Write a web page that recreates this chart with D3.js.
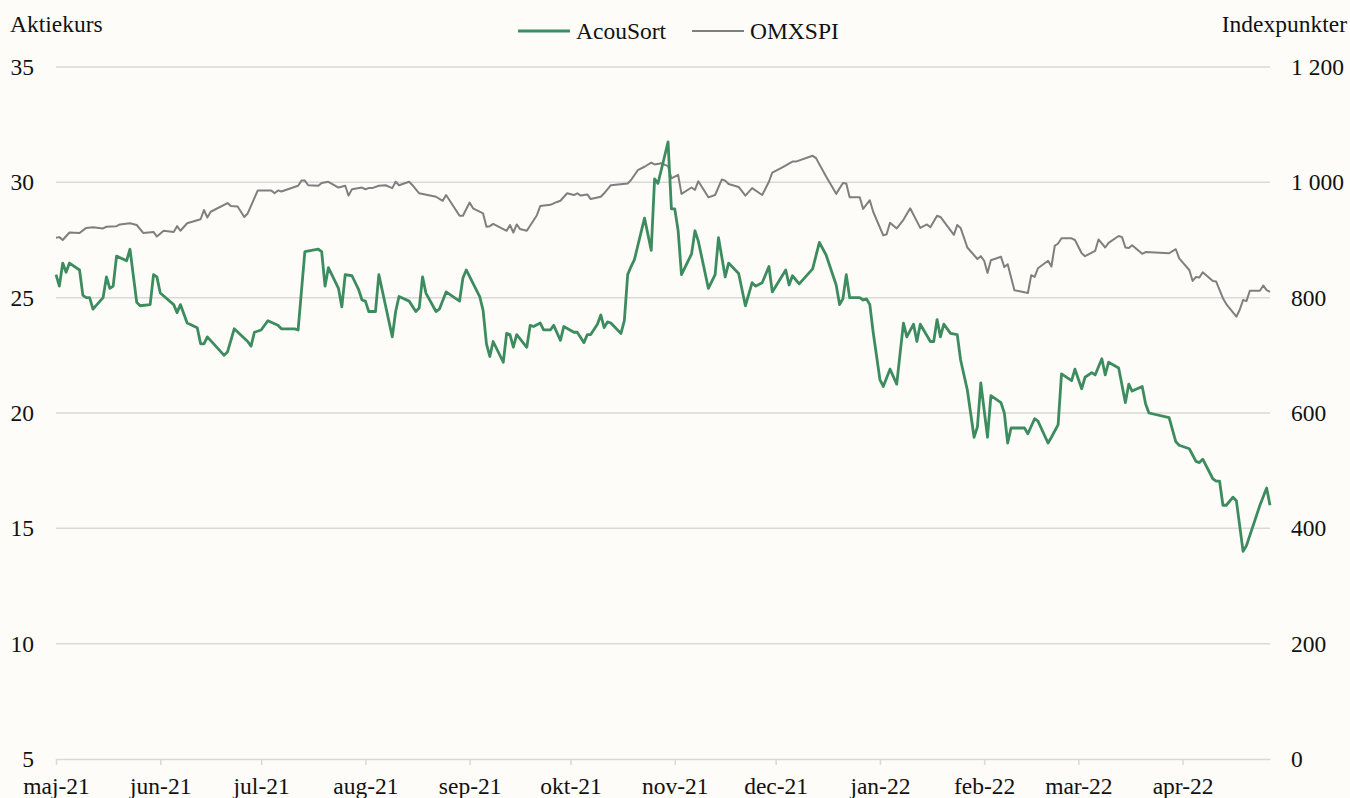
<!DOCTYPE html>
<html>
<head>
<meta charset="utf-8">
<script src="https://cdn.jsdelivr.net/npm/d3@7"></script>
<style>
  body { margin: 0; background: #fdfcf8; }
  svg { display: block; font-family: "Liberation Serif", "Times New Roman", serif; }
</style>
</head>
<body>
<div id="chart"></div>
<script>
// dag = antal dagar från 1 maj 2021
const acouSort = [
  [0, 26.0], [1, 25.5], [2, 26.5], [3, 26.1], [4, 26.5], [7, 26.2], [8, 25.1], [9, 25.0], [10, 25.0],
  [11, 24.5], [14, 25.0], [15, 25.9], [16, 25.4], [17, 25.5], [18, 26.8], [21, 26.6], [22, 27.1],
  [24, 24.8], [25, 24.65], [28, 24.7], [29, 26.0], [30, 25.9], [31, 25.2], [35, 24.7], [36, 24.35],
  [37, 24.7], [39, 23.9], [42, 23.7], [43, 23.0], [44, 23.0], [45, 23.3], [50, 22.5], [51, 22.65],
  [53, 23.65], [57, 23.1], [58, 22.9], [59, 23.5], [61, 23.6], [63, 24.0], [66, 23.8], [67, 23.65],
  [71, 23.65], [72, 23.6], [74, 27.0], [78, 27.1], [79, 27.0], [80, 25.5], [81, 26.3], [84, 25.4],
  [85, 24.6], [86, 26.0], [88, 25.95], [90, 25.35], [91, 24.9], [92, 24.85], [93, 24.4], [95, 24.4],
  [96, 26.0], [98, 24.65], [100, 23.3], [101, 24.4], [102, 25.05], [105, 24.85], [107, 24.4],
  [108, 24.55], [109, 25.9], [110, 25.2], [113, 24.4], [114, 24.5], [116, 25.25], [120, 24.85],
  [121, 25.85], [122, 26.2], [126, 25.05], [127, 24.45], [128, 23.0], [129, 22.45], [130, 23.1],
  [133, 22.2], [134, 23.45], [135, 23.4], [136, 22.85], [137, 23.4], [140, 22.85], [141, 23.8],
  [142, 23.75], [144, 23.9], [145, 23.6], [147, 23.6], [148, 23.8], [150, 23.15], [151, 23.75],
  [154, 23.5], [155, 23.5], [157, 23.05], [158, 23.4], [159, 23.4], [161, 23.85], [162, 24.25],
  [163, 23.7], [164, 23.95], [165, 23.9], [168, 23.45], [169, 24.0], [170, 26.0], [171, 26.35],
  [172, 26.65], [175, 28.45], [177, 27.05], [178, 30.15], [179, 29.95], [182, 31.75], [183, 28.85],
  [184, 28.85], [185, 27.9], [186, 26.0], [189, 26.9], [190, 27.9], [191, 27.45], [194, 25.4],
  [196, 26.0], [197, 27.6], [199, 25.9], [200, 26.5], [203, 26.05], [205, 24.65], [207, 25.65],
  [208, 25.5], [210, 25.65], [212, 26.35], [213, 25.25], [217, 26.2], [218, 25.55], [219, 25.95],
  [221, 25.6], [225, 26.25], [227, 27.4], [229, 26.85], [232, 25.55], [233, 24.7], [234, 24.95],
  [235, 26.0], [236, 25.0], [239, 25.0], [240, 24.9], [241, 24.95], [242, 24.7], [243, 23.5],
  [245, 21.45], [246, 21.15], [248, 21.9], [250, 21.25], [252, 23.9], [253, 23.3], [255, 23.85],
  [256, 23.1], [257, 23.85], [260, 23.1], [261, 23.1], [262, 24.05], [263, 23.3], [264, 23.85],
  [266, 23.45], [268, 23.4], [269, 22.3], [271, 21.0], [273, 18.95], [274, 19.4], [275, 21.3],
  [277, 18.95], [278, 20.75], [281, 20.45], [282, 20.0], [283, 18.7], [284, 19.35], [288, 19.35],
  [289, 19.1], [291, 19.75], [292, 19.65], [295, 18.7], [296, 18.95], [298, 19.5], [299, 21.7],
  [302, 21.4], [303, 21.9], [305, 21.05], [306, 21.55], [308, 21.75], [309, 21.65], [311, 22.35],
  [312, 21.65], [313, 22.2], [316, 21.95], [318, 20.45], [319, 21.25], [320, 20.95], [323, 21.15],
  [324, 20.4], [325, 20.0], [331, 19.8], [333, 18.75], [334, 18.6], [337, 18.45], [339, 17.9],
  [340, 17.85], [341, 18.0], [344, 17.15], [345, 17.05], [346, 17.05], [347, 16.0], [348, 16.0],
  [350, 16.35], [351, 16.2], [353, 14.0], [354, 14.25], [358, 16.0], [360, 16.75], [361, 16.0]
];

const omxspi = [
  [0, 904], [1, 905], [2, 900], [4, 913], [7, 912], [9, 921], [11, 922], [14, 920], [15, 923],
  [18, 924], [19, 927], [22, 929], [24, 926], [26, 912], [29, 914], [30, 906], [32, 916], [35, 914],
  [36, 924], [37, 916], [39, 929], [43, 936], [44, 952], [45, 939], [46, 949], [51, 964], [52, 959],
  [54, 958], [56, 940], [57, 946], [60, 986], [64, 986], [65, 981], [66, 986], [67, 984], [72, 994],
  [73, 1003], [74, 1003], [75, 995], [78, 994], [79, 999], [81, 1001], [84, 991], [86, 994],
  [87, 977], [88, 988], [91, 991], [92, 988], [93, 990], [94, 990], [96, 994], [98, 995], [100, 990],
  [101, 1001], [102, 995], [105, 1001], [106, 995], [108, 981], [113, 975], [115, 968], [116, 978],
  [120, 942], [121, 942], [123, 965], [124, 955], [127, 946], [128, 923], [129, 924], [130, 928],
  [134, 916], [135, 926], [136, 913], [137, 927], [138, 919], [140, 916], [143, 943], [144, 959],
  [147, 961], [149, 966], [150, 968], [152, 981], [154, 978], [155, 981], [156, 977], [158, 979],
  [159, 971], [162, 975], [163, 981], [165, 995], [170, 998], [171, 1004], [173, 1021], [175, 1027],
  [177, 1034], [178, 1031], [180, 1033], [182, 1028], [183, 1007], [184, 1010], [185, 1013],
  [186, 980], [189, 991], [190, 987], [191, 1002], [194, 974], [196, 978], [198, 1005], [199, 1003],
  [200, 997], [203, 992], [205, 977], [207, 990], [210, 978], [212, 1001], [213, 1017], [216, 1026],
  [219, 1036], [220, 1036], [225, 1046], [226, 1042], [229, 1010], [232, 980], [234, 999],
  [235, 998], [236, 974], [239, 974], [240, 954], [242, 969], [243, 949], [246, 908], [247, 910],
  [248, 930], [250, 920], [252, 935], [254, 955], [257, 921], [259, 927], [260, 922], [262, 942],
  [263, 940], [267, 909], [268, 926], [269, 921], [271, 887], [274, 867], [275, 872], [276, 864],
  [277, 843], [278, 865], [281, 871], [282, 853], [283, 858], [285, 813], [289, 808], [290, 839],
  [291, 836], [292, 851], [295, 864], [296, 854], [297, 890], [298, 894], [299, 903], [302, 903],
  [303, 900], [305, 877], [306, 872], [309, 881], [310, 901], [312, 887], [313, 895], [316, 907],
  [317, 905], [318, 887], [319, 886], [320, 891], [323, 876], [324, 879], [331, 877], [333, 884],
  [334, 868], [337, 848], [338, 829], [339, 836], [340, 835], [341, 844], [344, 829], [345, 828],
  [347, 799], [348, 789], [351, 767], [352, 779], [353, 796], [354, 794], [355, 812], [358, 812],
  [359, 821], [360, 813], [361, 810]
];

const monthTicks = ["2021-05-01", "2021-06-01", "2021-07-01", "2021-08-01", "2021-09-01", "2021-10-01",
  "2021-11-01", "2021-12-01", "2022-01-01", "2022-02-01", "2022-03-01", "2022-04-01"];
const monthLabels = ["maj-21", "jun-21", "jul-21", "aug-21", "sep-21", "okt-21",
  "nov-21", "dec-21", "jan-22", "feb-22", "mar-22", "apr-22"];
const leftTicks = [5, 10, 15, 20, 25, 30, 35];
const rightTicks = [0, 200, 400, 600, 800, 1000, 1200];
const rightTickLabels = ["0", "200", "400", "600", "800", "1 000", "1 200"];

const startDate = new Date(Date.UTC(2021, 4, 1));
const lastDay = 361;

let width = 1350;
let height = 798;
let plot = { left: 56, right: 1270, top: 67, bottom: 759 };

let svg = d3.select("#chart").append("svg")
  .attr("width", width)
  .attr("height", height);

svg.append("rect")
  .attr("width", width)
  .attr("height", height)
  .attr("fill", "#fdfcf8");

let toDate = (d) => d3.utcDay.offset(startDate, d);

let xScale = d3.scaleUtc()
  .domain([startDate, toDate(lastDay)])
  .range([plot.left, plot.right]);
let yLeft = d3.scaleLinear().domain([5, 35]).range([plot.bottom, plot.top]);
let yRight = d3.scaleLinear().domain([0, 1200]).range([plot.bottom, plot.top]);

let fontSize = 23.5;
let textColor = "#111";

// gridlines
svg.append("g").selectAll("line")
  .data(leftTicks.slice(1))
  .enter().append("line")
  .attr("x1", plot.left).attr("x2", plot.right)
  .attr("y1", (d) => yLeft(d)).attr("y2", (d) => yLeft(d))
  .attr("stroke", "#d9d9d9")
  .attr("stroke-width", 1.5);

// bottom axis
let xAxis = d3.axisBottom(xScale)
  .tickValues(monthTicks.map((s) => new Date(s + "T00:00:00Z")))
  .tickFormat((d, i) => monthLabels[i])
  .tickSize(6)
  .tickPadding(12)
  .tickSizeOuter(0);
let gX = svg.append("g")
  .attr("transform", `translate(0, ${plot.bottom})`)
  .call(xAxis);
gX.select(".domain").attr("stroke", "#d9d9d9").attr("stroke-width", 1.5);
gX.selectAll(".tick line").attr("stroke", "#d9d9d9").attr("stroke-width", 1.5);
gX.selectAll(".tick text")
  .attr("font-family", "Liberation Serif")
  .attr("font-size", fontSize)
  .attr("fill", textColor);

// left axis labels
let yAxisLeft = d3.axisLeft(yLeft).tickValues(leftTicks).tickSize(0).tickPadding(22);
let gYL = svg.append("g")
  .attr("transform", `translate(${plot.left}, 0)`)
  .call(yAxisLeft);
gYL.select(".domain").remove();
gYL.selectAll(".tick text")
  .attr("font-family", "Liberation Serif")
  .attr("font-size", fontSize)
  .attr("fill", textColor);

// right axis labels
let yAxisRight = d3.axisRight(yRight).tickValues(rightTicks).tickSize(0).tickPadding(21)
  .tickFormat((d, i) => rightTickLabels[i]);
let gYR = svg.append("g")
  .attr("transform", `translate(${plot.right}, 0)`)
  .call(yAxisRight);
gYR.select(".domain").remove();
gYR.selectAll(".tick text")
  .attr("font-family", "Liberation Serif")
  .attr("font-size", fontSize)
  .attr("fill", textColor);

// axis titles
svg.append("text")
  .text("Aktiekurs")
  .attr("x", 10).attr("y", 32)
  .attr("font-size", fontSize)
  .attr("fill", textColor);
svg.append("text")
  .text("Indexpunkter")
  .attr("x", 1347).attr("y", 32)
  .attr("text-anchor", "end")
  .attr("font-size", fontSize)
  .attr("fill", textColor);

// lines
let lineLeft = d3.line()
  .x((d) => xScale(toDate(d[0])))
  .y((d) => yLeft(d[1]));
let lineRight = d3.line()
  .x((d) => xScale(toDate(d[0])))
  .y((d) => yRight(d[1]));

svg.append("path")
  .datum(omxspi)
  .attr("d", lineRight)
  .attr("fill", "none")
  .attr("stroke", "#7f7f7f")
  .attr("stroke-width", 2)
  .attr("stroke-linejoin", "round");

svg.append("path")
  .datum(acouSort)
  .attr("d", lineLeft)
  .attr("fill", "none")
  .attr("stroke", "#3d8c5f")
  .attr("stroke-width", 2.8)
  .attr("stroke-linejoin", "round");

// legend
let legendItems = [
  { name: "AcouSort", color: "#3d8c5f", width: 2.8, x: 518 },
  { name: "OMXSPI", color: "#7f7f7f", width: 2, x: 692 }
];
let legend = svg.selectAll("g.legend-item").data(legendItems)
  .enter().append("g")
  .classed("legend-item", true)
  .attr("transform", (d) => `translate(${d.x}, 31)`);
legend.append("line")
  .attr("x1", 0).attr("x2", 52)
  .attr("stroke", (d) => d.color)
  .attr("stroke-width", (d) => d.width);
legend.append("text")
  .text((d) => d.name)
  .attr("x", 58).attr("y", 8)
  .attr("font-size", fontSize)
  .attr("fill", textColor);
</script>
</body>
</html>
